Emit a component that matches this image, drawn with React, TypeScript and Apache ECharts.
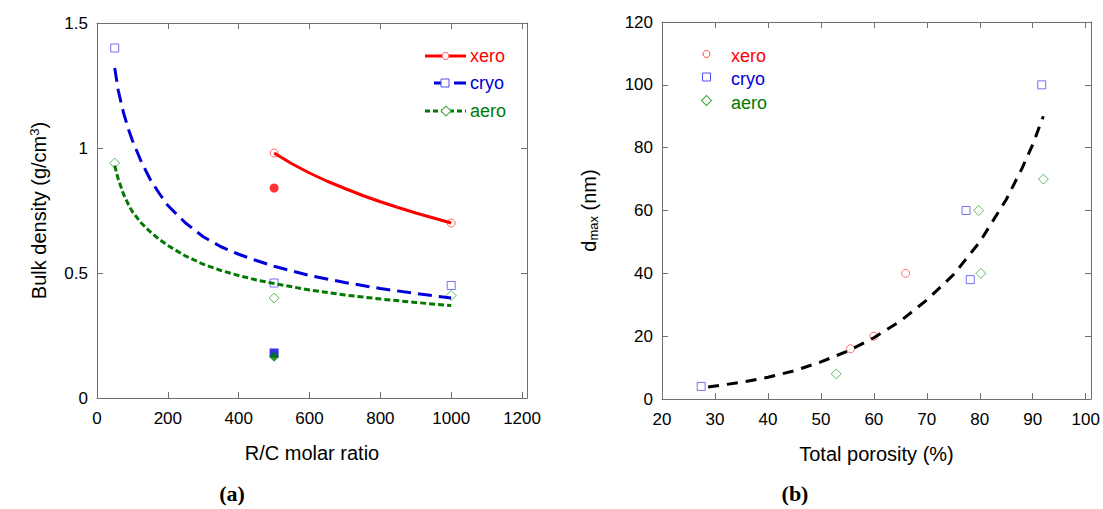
import React, { useEffect, useRef } from "react";
import * as echarts from "echarts";

// ---- Panel (a): bulk density vs R/C molar ratio ----
const xeroOpen = [[500, 0.98], [1000, 0.7]];
const xeroFilled = [[500, 0.84]];
const cryoOpen = [[50, 1.4], [500, 0.46], [1000, 0.45]];
const cryoFilled = [[500, 0.18]];
const aeroOpen = [[50, 0.94], [500, 0.4], [1000, 0.41]];
const aeroFilled = [[500, 0.165]];

const xeroFitX = [500, 550, 600, 650, 700, 750, 800, 850, 900, 950, 1000];
const xeroFitY = [0.98, 0.937, 0.9, 0.867, 0.838, 0.81, 0.785, 0.762, 0.74, 0.72, 0.7];
const fitX = [50, 60, 75, 90, 100, 125, 150, 175, 200, 250, 300, 350, 400, 450, 500, 600, 700, 800, 900, 1000];
const cryoFitY = [1.32, 1.23, 1.14, 1.07, 1.03, 0.945, 0.875, 0.82, 0.77, 0.7, 0.645, 0.605, 0.575, 0.55, 0.527, 0.49, 0.462, 0.438, 0.418, 0.4];
const aeroFitY = [0.93, 0.875, 0.815, 0.77, 0.745, 0.7, 0.665, 0.635, 0.61, 0.568, 0.535, 0.51, 0.49, 0.472, 0.458, 0.432, 0.412, 0.396, 0.382, 0.37];

// ---- Panel (b): d_max vs total porosity ----
const xeroB = [[55.6, 16], [60, 20], [66, 40]];
const cryoB = [[27.4, 4], [77.4, 60], [78.2, 38], [91.7, 100]];
const aeroB = [[52.9, 8], [79.8, 60], [80.2, 40], [92, 70]];
const fitBX = [28.7, 32, 35, 40, 45, 50, 55, 60, 65, 70, 75, 80, 85, 88, 90, 92];
const fitBY = [3.8, 4.6, 5.3, 6.9, 9, 11.8, 15.2, 19.5, 24.8, 31.5, 39.5, 50, 63.5, 73.5, 81, 90];

const xTicksA = [0, 200, 400, 600, 800, 1000, 1200];
const xTicksB = [20, 30, 40, 50, 60, 70, 80, 90, 100];

const RED = "#ff0000";
const BLUE = "#0000d8";
const GREEN = "#007a00";
const RED_M = "#ff4a4a";
const BLUE_M = "#5050f0";
const GREEN_M = "#3aa83a";
const AXIS = "#707070";

const zip = (xs: number[], ys: number[]) => xs.map((x, i) => [x, ys[i]]);

export default function App() {
  const ref = useRef<HTMLDivElement>(null);
  useEffect(() => {
    if (!ref.current) return;
    const chart = echarts.init(ref.current, undefined, { renderer: "svg" });
    const font = "'Liberation Sans', Arial, sans-serif";
    const axisCommon = {
      axisLine: { show: true, onZero: false, lineStyle: { color: AXIS, width: 1 } },
      axisTick: { show: true, inside: true, length: 6, lineStyle: { color: AXIS } },
      splitLine: { show: false },
    };
    const hidden = { ...axisCommon, axisLabel: { show: false } };
    const labelStyle = { color: "#000", fontSize: 17, fontFamily: font };

    const diamondRect = (cx: number, cy: number) => ({
      type: "rect", x: cx, y: cy, rotation: Math.PI / 4,
      shape: { x: -3.5, y: -3.5, width: 7, height: 7 },
      style: { fill: "#fff", stroke: GREEN_M, lineWidth: 1 },
      z: 200,
    });

    const legendA = [
      { type: "line", shape: { x1: 425, y1: 56, x2: 466, y2: 56 }, style: { stroke: RED, lineWidth: 3 } },
      { type: "circle", shape: { cx: 445.5, cy: 56, r: 3.5 }, style: { fill: "#fff", stroke: RED_M, lineWidth: 1 } },
      { type: "text", x: 470, y: 56, style: { text: "xero", fill: RED, fontSize: 18, fontFamily: font, verticalAlign: "middle" } },
      { type: "line", shape: { x1: 434, y1: 83, x2: 466, y2: 83 }, style: { stroke: BLUE, lineWidth: 3, lineDash: [14, 6] } },
      { type: "rect", shape: { x: 441, y: 79, width: 8, height: 8 }, style: { fill: "#fff", stroke: BLUE_M, lineWidth: 1 } },
      { type: "text", x: 470, y: 83, style: { text: "cryo", fill: BLUE, fontSize: 18, fontFamily: font, verticalAlign: "middle" } },
      { type: "line", shape: { x1: 425, y1: 111, x2: 466, y2: 111 }, style: { stroke: GREEN, lineWidth: 3, lineDash: [5, 3] } },
      diamondRect(446, 111),
      { type: "text", x: 470, y: 111, style: { text: "aero", fill: GREEN, fontSize: 18, fontFamily: font, verticalAlign: "middle" } },
    ];
    const legendB = [
      { type: "circle", shape: { cx: 706.5, cy: 54, r: 3.5 }, style: { fill: "#fff", stroke: RED_M, lineWidth: 1 } },
      { type: "text", x: 731, y: 56, style: { text: "xero", fill: RED, fontSize: 18, fontFamily: font, verticalAlign: "middle" } },
      { type: "rect", shape: { x: 702.5, y: 73, width: 8, height: 8 }, style: { fill: "#fff", stroke: BLUE_M, lineWidth: 1 } },
      { type: "text", x: 731, y: 79, style: { text: "cryo", fill: BLUE, fontSize: 18, fontFamily: font, verticalAlign: "middle" } },
      diamondRect(706.5, 100.5),
      { type: "text", x: 731, y: 102.5, style: { text: "aero", fill: GREEN, fontSize: 18, fontFamily: font, verticalAlign: "middle" } },
    ];
    const serif = "'Liberation Serif', 'DejaVu Serif', serif";
    const panelLabels = [
      { type: "text", x: 232, y: 493, style: { text: "(a)", fill: "#000", fontSize: 22, fontWeight: "bold", fontFamily: serif, align: "center", verticalAlign: "middle" } },
      { type: "text", x: 795, y: 493, style: { text: "(b)", fill: "#000", fontSize: 22, fontWeight: "bold", fontFamily: serif, align: "center", verticalAlign: "middle" } },
    ];
    const fitCommon = { smooth: false, showSymbol: false, silent: true };

    chart.setOption({
      animation: false,
      backgroundColor: "#fff",
      textStyle: { fontFamily: font },
      grid: [
        { left: 97, top: 23, width: 430, height: 375, containLabel: false, outerBoundsMode: "none" },
        { left: 662, top: 22, width: 429, height: 377, containLabel: false, outerBoundsMode: "none" },
      ],
      xAxis: [
        {
          ...axisCommon, type: "value", gridIndex: 0, position: "bottom", min: 0, max: 1214, interval: 200,
          axisLabel: { ...labelStyle, margin: 12, formatter: (v: number) => (xTicksA.includes(v) ? String(v) : "") },
          name: "R/C molar ratio", nameLocation: "middle", nameGap: 45,
          nameTextStyle: { color: "#000", fontSize: 20, fontFamily: font },
        },
        { ...hidden, type: "value", gridIndex: 0, position: "top", min: 0, max: 1214, interval: 200 },
        {
          ...axisCommon, type: "value", gridIndex: 1, position: "bottom", min: 20, max: 101, interval: 10,
          axisLabel: { ...labelStyle, margin: 12, formatter: (v: number) => (xTicksB.includes(v) ? String(v) : "") },
          name: "Total porosity (%)", nameLocation: "middle", nameGap: 45,
          nameTextStyle: { color: "#000", fontSize: 20, fontFamily: font },
        },
        { ...hidden, type: "value", gridIndex: 1, position: "top", min: 20, max: 101, interval: 10 },
      ],
      yAxis: [
        {
          ...axisCommon, type: "value", gridIndex: 0, position: "left", min: 0, max: 1.5, interval: 0.5,
          axisLabel: { ...labelStyle, margin: 9 },
          name: "Bulk density (g/cm{sup|3})", nameLocation: "middle", nameGap: 48,
          nameTextStyle: {
            color: "#000", fontSize: 20, fontFamily: font,
            rich: { sup: { fontSize: 13, fontFamily: font, color: "#000", verticalAlign: "top", padding: [0, 0, 8, 0] } },
          },
        },
        { ...hidden, type: "value", gridIndex: 0, position: "right", min: 0, max: 1.5, interval: 0.5 },
        {
          ...axisCommon, type: "value", gridIndex: 1, position: "left", min: 0, max: 120, interval: 20,
          axisLabel: { ...labelStyle, margin: 9 },
          name: "d{sub|max} (nm)", nameLocation: "middle", nameGap: 62,
          nameTextStyle: {
            color: "#000", fontSize: 20, fontFamily: font,
            rich: { sub: { fontSize: 13, fontFamily: font, color: "#000", verticalAlign: "bottom", padding: [10, 0, 0, 0] } },
          },
        },
        { ...hidden, type: "value", gridIndex: 1, position: "right", min: 0, max: 120, interval: 20 },
      ],
      series: [
        { type: "line", name: "xero fit", xAxisIndex: 0, yAxisIndex: 0, data: zip(xeroFitX, xeroFitY), ...fitCommon, lineStyle: { color: RED, width: 3 } },
        { type: "line", name: "cryo fit", xAxisIndex: 0, yAxisIndex: 0, data: zip(fitX, cryoFitY), ...fitCommon, lineStyle: { color: BLUE, width: 3, type: [14, 7] } },
        { type: "line", name: "aero fit", xAxisIndex: 0, yAxisIndex: 0, data: zip(fitX, aeroFitY), ...fitCommon, lineStyle: { color: GREEN, width: 3, type: [6, 3] } },
        { type: "scatter", name: "xero", xAxisIndex: 0, yAxisIndex: 0, data: xeroOpen, symbol: "circle", symbolSize: 8, itemStyle: { color: "#fff", borderColor: RED_M, borderWidth: 1 } },
        { type: "scatter", name: "xero filled", xAxisIndex: 0, yAxisIndex: 0, data: xeroFilled, symbol: "circle", symbolSize: 9, itemStyle: { color: RED } },
        { type: "scatter", name: "cryo", xAxisIndex: 0, yAxisIndex: 0, data: cryoOpen, symbol: "rect", symbolSize: 8, itemStyle: { color: "#fff", borderColor: BLUE_M, borderWidth: 1 } },
        { type: "scatter", name: "cryo filled", xAxisIndex: 0, yAxisIndex: 0, data: cryoFilled, symbol: "rect", symbolSize: 9, itemStyle: { color: BLUE } },
        { type: "scatter", name: "aero", xAxisIndex: 0, yAxisIndex: 0, data: aeroOpen, symbol: "diamond", symbolSize: 10, itemStyle: { color: "#fff", borderColor: GREEN_M, borderWidth: 1 } },
        { type: "scatter", name: "aero filled", xAxisIndex: 0, yAxisIndex: 0, data: aeroFilled, symbol: "diamond", symbolSize: 10, itemStyle: { color: GREEN } },

        { type: "line", name: "fit", xAxisIndex: 2, yAxisIndex: 2, data: zip(fitBX, fitBY), ...fitCommon, lineStyle: { color: "#000", width: 3, type: [11, 8] } },
        { type: "scatter", name: "xero b", xAxisIndex: 2, yAxisIndex: 2, data: xeroB, symbol: "circle", symbolSize: 8, itemStyle: { color: "rgba(0,0,0,0)", borderColor: RED_M, borderWidth: 1 } },
        { type: "scatter", name: "cryo b", xAxisIndex: 2, yAxisIndex: 2, data: cryoB, symbol: "rect", symbolSize: 8, itemStyle: { color: "rgba(0,0,0,0)", borderColor: BLUE_M, borderWidth: 1 } },
        { type: "scatter", name: "aero b", xAxisIndex: 2, yAxisIndex: 2, data: aeroB, symbol: "diamond", symbolSize: 10, itemStyle: { color: "rgba(0,0,0,0)", borderColor: GREEN_M, borderWidth: 1 } },
      ],
      graphic: [...legendA, ...legendB, ...panelLabels],
    });
    return () => chart.dispose();
  }, []);
  return <div ref={ref} style={{ position: "fixed", left: 0, top: 0, width: 1103, height: 509, background: "#fff" }} />;
}
